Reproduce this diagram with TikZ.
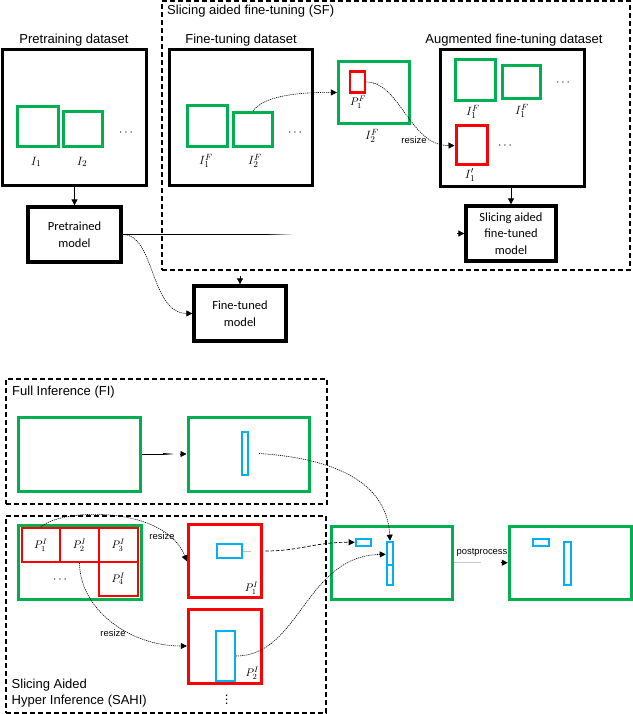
\documentclass[tikz,border=0pt]{standalone}
\usepackage{fontspec}
\setmainfont{Liberation Sans}
\newfontfamily\calib{Carlito}
\usetikzlibrary{arrows.meta}
\definecolor{ogreen}{RGB}{0,176,80}
\definecolor{ored}{RGB}{255,0,0}
\definecolor{ocyan}{RGB}{0,176,240}
\begin{document}
\begin{tikzpicture}[x=1pt,y=-1pt,
  box/.style={draw, rectangle, inner sep=0pt},
  blackbox/.style={box, line width=3pt},
  gbox/.style={box, draw=ogreen, line width=3pt},
  rbox/.style={box, draw=ored, line width=3pt},
  cbox/.style={box, draw=ocyan, line width=1.9pt},
  rcell/.style={box, draw=ored, line width=2.2pt, font=\fontsize{11}{13}\selectfont},
  modelbox/.style={box, line width=3.3pt, align=center, font=\calib\fontsize{12.5}{16.5}\selectfont},
  dashframe/.style={box, line width=1.2pt, dash pattern=on 5pt off 3pt},
  titletext/.style={font=\fontsize{13}{15}\selectfont, inner sep=0pt},
  smalltext/.style={font=\fontsize{9.4}{11}\selectfont, inner sep=0pt},
  lab/.style={font=\fontsize{13}{15}\selectfont, inner sep=0pt},
  plab/.style={font=\fontsize{11}{13}\selectfont, inner sep=0pt},
  arr/.style={-{Triangle[length=6pt,width=6pt]}, line width=0.8pt},
  dotarrow/.style={arr, line width=0.6pt, dash pattern=on 1.2pt off 0.9pt},
  dasharrow/.style={arr, line width=0.7pt, dash pattern=on 3.5pt off 1.8pt},
  ]
\useasboundingbox (0,0) rectangle (632,714);

% ---------------- top part ----------------
\node[dashframe, minimum width=468pt, minimum height=269pt] (sf) at (396,135.5) {};
\node[titletext, anchor=west] (sftitle) at (167,11) {Slicing aided fine-tuning (SF)};

\node[titletext] (t1) at (74,40) {Pretraining dataset};
\node[titletext] (t2) at (241,40) {Fine-tuning dataset};
\node[titletext] (t3) at (514,40) {Augmented fine-tuning dataset};

\node[blackbox, minimum width=144pt, minimum height=135pt] (pre) at (74.5,117.5) {};
\node[gbox, minimum width=41pt, minimum height=40pt] (I1) at (37.7,126.3) {};
\node[gbox, minimum width=38.7pt, minimum height=35pt] (I2) at (82.7,129.2) {};
\node[lab] (lI1) at (36,162) {$I_1$};
\node[lab] (lI2) at (82,162) {$I_2$};
\node[lab] (d1) at (126,133) {$\cdots$};

\node[blackbox, minimum width=143pt, minimum height=135pt] (ftd) at (240.5,117.5) {};
\node[gbox, minimum width=40pt, minimum height=40.7pt] (I1F) at (207.7,126.3) {};
\node[gbox, minimum width=39.3pt, minimum height=34pt] (I2F) at (253,129.7) {};
\node[lab] (lI1F) at (206,161) {$I_1^F$};
\node[lab] (lI2F) at (255,161) {$I_2^F$};
\node[lab] (d2) at (295,133) {$\cdots$};

\node[gbox, minimum width=71pt, minimum height=61.6pt] (crop) at (373.8,92.5) {};
\node[rbox, line width=2.6pt, minimum width=15pt, minimum height=20.6pt] (P1F) at (357.5,82) {};
\node[plab] (lP1F) at (358,102) {$P_1^F$};
\node[lab, font=\fontsize{9}{9}\selectfont] (d3) at (378,84) {$\cdots$};
\node[lab] (lcrop) at (372,136) {$I_2^F$};

\node[blackbox, minimum width=144pt, minimum height=136pt] (aug) at (512,118) {};
\node[gbox, minimum width=40pt, minimum height=40.7pt] (A1) at (475,80.3) {};
\node[gbox, minimum width=38pt, minimum height=33pt] (A2) at (521,82.5) {};
\node[lab] (d4) at (563,83) {$\cdots$};
\node[lab] (lA1) at (473,112) {$I_1^F$};
\node[lab] (lA2) at (522,111) {$I_1^F$};
\node[rbox, minimum width=31pt, minimum height=39pt] (A3) at (471.5,145.5) {};
\node[lab] (lA3) at (470,175) {$I_1^{\prime}$};
\node[lab] (d5) at (505,146) {$\cdots$};

\node[modelbox, minimum width=93pt, minimum height=55pt] (pm) at (74.5,234.5) {Pretrained\\model};
\node[modelbox, minimum width=92pt, minimum height=55pt] (ft) at (240,313.5) {Fine-tuned\\model};
\node[modelbox, minimum width=90pt, minimum height=55pt] (slm) at (511,233.5) {Slicing aided\\fine-tuned\\model};

% top connectors
\draw[arr] (pre.south) -- (pm.north);
\draw[arr] (slm.north |- aug.south) -- (slm.north);
\draw[dotarrow] (I2F.north) .. controls (262,97) and (295,92) .. (crop.west);
\draw[dotarrow] (P1F.east) .. controls (400,82) and (410,146) .. (A3.west);
\node[smalltext] (rs0) at (414,140) {resize};
\coordinate (fa1) at (266,234.5);
\coordinate (fa2) at (293,234.5);
\draw[line width=0.8pt] (pm.east) -- (fa1);
\shade[left color=black, right color=white] ([yshift=0.4pt]fa1) rectangle ([yshift=-0.4pt]fa2);
\draw[arr] ([xshift=-7pt]slm.west) -- (slm.west);
\draw[dotarrow] (pm.east) .. controls (155,234) and (150,313) .. (ft.west);
\draw[arr] ([yshift=8pt]ft.north) -- (ft.north);

% ---------------- Full inference ----------------
\node[dashframe, minimum width=321pt, minimum height=125pt] (fi) at (166.5,441.5) {};
\node[titletext, anchor=west] (fititle) at (12,392) {Full Inference (FI)};
\node[gbox, minimum width=122pt, minimum height=74pt] (fi1) at (79,454) {};
\node[gbox, minimum width=121pt, minimum height=74pt] (fi2) at (248.5,454) {};
\node[cbox, minimum width=6.5pt, minimum height=43pt] (fi2c) at (244.8,453.5) {};
\coordinate (fb1) at (163,454);
\coordinate (fb2) at (174,454);
\draw[line width=0.8pt] (fi1.east) -- (fb1);
\shade[left color=black, right color=white] ([yshift=0.4pt]fb1) rectangle ([yshift=-0.4pt]fb2);
\draw[arr] ([xshift=-7pt]fi2.west) -- (fi2.west);

% ---------------- SAHI ----------------
\node[dashframe, minimum width=320pt, minimum height=197pt] (sahi) at (166,614.5) {};
\node[titletext, anchor=west, align=left, font=\fontsize{13}{16}\selectfont] (sahititle) at (11.5,693) {Slicing Aided\\Hyper Inference (SAHI)};

\node[gbox, minimum width=122.7pt, minimum height=74pt] (sg) at (79.7,562) {};
\node[rcell, minimum width=38.3pt, minimum height=33.4pt] (c1) at (40.85,545) {$P_1^I$};
\node[rcell, minimum width=39pt, minimum height=33.4pt] (c2) at (79.5,545) {$P_2^I$};
\node[rcell, minimum width=38.7pt, minimum height=33.4pt] (c3) at (118.35,545) {$P_3^I$};
\node[rcell, minimum width=38.7pt, minimum height=34.3pt] (c4) at (118.35,578.85) {$P_4^I$};
\node[lab] (d6) at (60,580) {$\cdots$};

\node[rbox, minimum width=73.4pt, minimum height=72.7pt] (sp1) at (225,561.3) {};
\node[cbox, minimum width=25.6pt, minimum height=13.4pt] (sp1c) at (229.5,551) {};
\node[plab] (lsp1) at (251.5,588) {$P_1^I$};
\node[rbox, minimum width=73.4pt, minimum height=74pt] (sp2) at (225,646) {};
\node[cbox, minimum width=19.3pt, minimum height=50.6pt] (sp2c) at (225.3,656) {};
\node[plab] (lsp2) at (252.3,673) {$P_2^I$};
\node[lab] (vd) at (226.7,697) {$\vdots$};

\draw[dotarrow] (c1.north) .. controls (60,508) and (165,505) .. (sp1.west);
\node[smalltext] (rs1) at (162,536) {resize};
\draw[dotarrow] (c2.south) .. controls (80,610) and (130,646) .. (sp2.west);
\node[smalltext] (rs2) at (113,633) {resize};

% merged
\node[gbox, minimum width=121pt, minimum height=73.3pt] (mb) at (392.2,562.7) {};
\node[cbox, minimum width=15.3pt, minimum height=6.7pt] (mc1) at (363.3,542.3) {};
\node[cbox, minimum width=6.6pt, minimum height=43.3pt] (mc2) at (390,563.3) {};
\draw[ocyan, line width=1.9pt] (mc2.west |- 0,565) -- (mc2.east |- 0,565);

\draw[gray!50, line width=0.6pt] (sp1c.east) -- ++(8,0);
\draw[dasharrow] ([xshift=22pt]sp1c.east) .. controls (300,551) and (315,542) .. (mc1.west);
\draw[dotarrow] (sp2c.east) .. controls (300,656) and (305,556) .. ([yshift=9pt]mc2.west);
\draw[dotarrow] ([xshift=10pt]fi2c.east) .. controls (330,458) and (387,480) .. (mc2.north);

% final
\node[gbox, minimum width=122.4pt, minimum height=73.3pt] (fb) at (570.5,562.7) {};
\node[cbox, minimum width=16pt, minimum height=6.7pt] (fc1) at (541.3,542.3) {};
\node[cbox, minimum width=6.7pt, minimum height=43.3pt] (fc2) at (567.7,563.3) {};
\draw[gray!45, line width=0.8pt] (mb.east) -- ++(27,0);
\draw[arr] ([xshift=-7pt]fb.west) -- (fb.west);
\node[smalltext] (pp) at (482,552) {postprocess};
\end{tikzpicture}
\end{document}
